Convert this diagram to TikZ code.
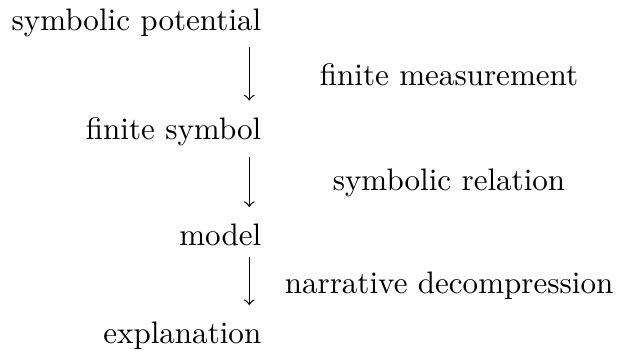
\documentclass[tikz,border=0pt]{standalone}
\usepackage{amsmath}
\usepackage{tikz}
\usetikzlibrary{arrows,calc,positioning}

\begin{document}
\begin{tikzpicture}[arrow/.style = {-to, shorten >=2pt}, node distance=2cm]
		\tikzset{term/.style={anchor=base east, inner sep=3.33pt}}
		\tikzset{lbl/.style={anchor=center, inner sep=0pt}}
		\useasboundingbox (0,0) rectangle (6.98,-4.0);

		\node[term] (sympot) at (3.08,-0.34) {symbolic potential};
		\node[term] (finsym) at (3.08,-1.58) {finite symbol};
		\node[term] (model)  at (3.08,-2.78) {model};
		\node[term] (expl)   at (3.08,-3.89) {explanation};

		\coordinate (ax) at (2.82,0);

		\draw [arrow] (sympot.south -| ax) -- (finsym.north -| ax);
		\draw [arrow] (finsym.south -| ax) -- (model.north -| ax);
		\draw [arrow] (model.south -| ax) -- (expl.north -| ax);

		\node[lbl] (measure) at (5.08,-0.85) {finite measurement};
		\node[lbl] (relation) at (5.08,-2.07) {symbolic relation};
		\node[lbl] (decomp) at (5.08,-3.23) {narrative decompression};

	\end{tikzpicture}
\end{document}
